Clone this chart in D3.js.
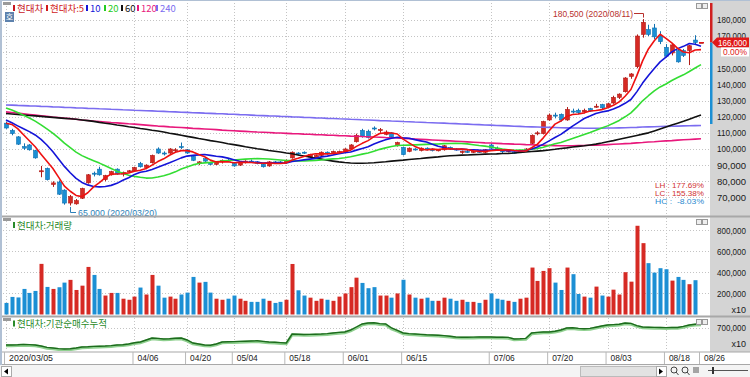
<!DOCTYPE html>
<html><head><meta charset="utf-8">
<script src="https://cdn.jsdelivr.net/npm/d3@7"></script>
<style>
html,body{margin:0;padding:0;background:#fff;}
svg{display:block;}
text{font-family:"Liberation Sans",Arial,sans-serif;}
.kr{font-family:"Noto Sans CJK KR","Noto Sans",sans-serif;}
</style></head><body>
<svg id="c" width="750" height="377"></svg>
<script>
const YEAR = "2020";
const dates = [
"03/05","03/06","03/09","03/10","03/11","03/12","03/13","03/16","03/17","03/18","03/19","03/20","03/23","03/24","03/25","03/26","03/27","03/30","03/31",
"04/01","04/02","04/03","04/06","04/07","04/08","04/09","04/10","04/13","04/14","04/16","04/17","04/20","04/21","04/22","04/23","04/24","04/27","04/28","04/29",
"05/04","05/06","05/07","05/08","05/11","05/12","05/13","05/14","05/15","05/18","05/19","05/20","05/21","05/22","05/25","05/26","05/27","05/28","05/29",
"06/01","06/02","06/03","06/04","06/05","06/08","06/09","06/10","06/11","06/12","06/15","06/16","06/17","06/18","06/19","06/22","06/23","06/24","06/25","06/26","06/29","06/30",
"07/01","07/02","07/03","07/06","07/07","07/08","07/09","07/10","07/13","07/14","07/15","07/16","07/17","07/20","07/21","07/22","07/23","07/24","07/27","07/28","07/29","07/30","07/31",
"08/03","08/04","08/05","08/06","08/07","08/10","08/11","08/12","08/13","08/14","08/18","08/19","08/20","08/21","08/24","08/25","08/26"];

const open = [
116000,111500,107500,101500,102500,99000,86000,88000,78000,79500,
74500,66500,66000,69500,79000,85000,87500,81000,84000,87500,
84500,86000,86500,91000,88500,91500,100000,97500,97500,99000,
101500,99500,95500,91000,94000,91500,90500,92000,93000,91000,
90000,92000,92500,92000,90500,89500,92000,92000,91500,94500,
97500,98000,95000,94500,96000,98000,97000,98000,98000,100000,
104500,111500,111000,113000,111500,109000,110000,102000,101000,98500,
100000,99000,100500,100000,99000,99500,101000,100000,98000,98500,
98000,98500,98000,102500,100500,99000,98500,98000,98000,99000,
103500,110000,109500,118000,121000,121500,118000,123500,124000,123000,
125000,126500,127500,126000,128500,132000,135500,145000,151000,171000,
174000,175000,170000,163000,159500,161000,161000,161000,167500,166000];
const high = [
117000,112500,108000,103500,103000,99500,89500,88500,80000,80500,
75000,71500,69000,76000,84500,86000,89000,84000,86500,88000,
86000,87000,89000,92000,90500,96500,101000,98500,100500,100500,
104000,100000,96000,92500,94500,92000,92500,93500,94000,91500,
92000,93000,93500,92500,91000,92500,92500,92500,93500,98500,
98000,98500,97000,96500,98500,98500,99000,99000,100500,103000,
109500,112500,112000,114000,113000,111500,110500,104500,101500,101000,
100500,101000,101000,100500,100000,102500,101500,100500,99000,99500,
99000,99500,100000,103500,101500,99500,99500,98500,99500,100500,
109000,111000,117500,122000,122500,122000,126000,125000,125000,125000,
125500,128000,128000,128500,133000,134500,144500,147000,171000,180500,
177000,177500,173000,165000,165000,162500,162000,164500,170500,166000];
const low = [
112500,108500,102500,99500,99000,94000,82500,80500,76500,71500,
65500,65000,65500,69000,78500,83000,83500,80000,83500,84000,
83000,85000,86000,88500,87500,91000,97000,96000,97000,98000,
100000,97000,92500,90000,92000,90000,90000,91000,92000,89000,
89500,91000,91500,90500,88500,89000,91000,91000,91000,94000,
96000,97000,94500,94000,95500,96500,96500,97000,97500,99500,
104000,107000,106500,111500,110000,108500,107000,101500,96000,98000,
99000,98500,99000,98500,98500,99000,99500,99000,97000,97500,
97500,97500,97500,100000,99000,97500,98000,97000,97500,98500,
103000,108500,109000,117500,119000,117000,117500,122000,121500,122000,
123000,125500,124500,125500,128000,131000,135000,143500,150000,169000,
170000,168000,165000,157000,158000,153500,157000,152000,165000,166000];
const close = [
113000,109500,103000,100500,99500,94500,86500,81000,79000,72000,
66500,70500,68000,75500,84000,84500,84000,83500,86000,84500,
85500,86500,88500,89000,90000,96000,97500,97000,100000,99500,
101000,97500,93000,92000,92500,90500,92000,93000,92500,89500,
91500,92500,92000,91000,89000,92000,91500,91500,93000,98000,
97000,97500,96500,96000,98000,97000,98500,98500,100000,102500,
108500,108000,107000,112500,112000,110500,107500,104000,96500,100500,
99500,100500,100000,99000,99500,102000,100000,99500,98500,98000,
98500,98000,99500,100500,100000,98500,99000,97500,99000,100000,
108500,110000,117000,121000,120500,118000,124500,123000,122500,124000,
123500,126500,125500,128000,132000,134000,144000,146500,170000,178500,
171000,169500,166500,157500,164500,154000,158000,164000,166000,166000];
// closes of the 19 sessions before 2020/03/05 (for the 5/10/20 averages)
const preClose = [135000,134000,133500,134000,133000,132500,132000,131500,131000,131500,127000,122000,119000,117000,115000,113500,116000,119500,118000];

// long moving averages
const ma60 = [
122000,121700,121400,121100,120800,120500,120200,119900,119600,119300,
119000,118700,118400,118000,117600,117100,116500,116000,115500,114900,
114400,113800,113300,112700,112200,111600,111100,110500,109800,109200,
108500,107800,107200,106500,105900,105200,104600,104000,103300,102700,
102100,101400,100800,100200,99700,99100,98600,98100,97500,97000,
96300,95700,95000,94300,93700,93000,92500,92000,91600,91300,
91200,91200,91300,91500,91800,92100,92500,92800,93100,93500,
93800,94100,94500,94800,95100,95500,95800,96000,96200,96300,
96500,96600,96800,96900,97000,97200,97300,97500,97800,98100,
98400,98700,99000,99400,99800,100300,100700,101200,101600,102000,
102500,103000,103700,104500,105200,106000,106800,107600,108400,109200,
110000,111200,112400,113600,114800,116000,117200,118500,119800,121000];
const ma120 = [
123000,122600,122200,121800,121400,121000,120600,120200,119800,119500,
119100,118800,118400,118000,117700,117300,117000,116700,116400,116200,
115900,115600,115400,115100,114800,114500,114200,114000,113700,113500,
113300,113100,112800,112600,112400,112200,112000,111700,111500,111300,
111100,110900,110700,110500,110400,110200,110000,109900,109700,109500,
109400,109200,109100,108900,108800,108600,108500,108300,108200,108000,
107900,107700,107600,107400,107300,107100,107000,106800,106600,106400,
106200,106000,105800,105600,105400,105200,105000,104800,104600,104400,
104200,104000,103800,103700,103500,103300,103200,103000,102900,102700,
102600,102400,102300,102200,102100,102000,102000,102000,102100,102200,
102300,102400,102500,102700,102900,103100,103300,103500,103800,104000,
104300,104500,104800,105000,105200,105500,105700,105900,106100,106300];
const ma240 = [
127300,127200,127000,126900,126700,126600,126400,126300,126100,126000,
125800,125700,125500,125400,125200,125100,124900,124800,124600,124500,
124300,124200,124000,123900,123700,123600,123400,123300,123100,123000,
122800,122700,122500,122400,122200,122100,121900,121800,121600,121500,
121300,121200,121000,120800,120700,120500,120400,120200,120100,119900,
119800,119600,119500,119300,119200,119000,118900,118700,118600,118400,
118300,118100,118000,117800,117600,117500,117300,117200,117000,116900,
116700,116600,116400,116300,116100,116000,115800,115700,115500,115400,
115200,115100,114900,114800,114600,114500,114300,114100,114000,113800,
113700,113600,113500,113400,113300,113200,113100,113000,113000,112900,
112900,112900,112900,113000,113000,113100,113200,113300,113400,113600,
113700,113800,113900,114000,114100,114200,114300,114400,114500,114600];

// volume (chart units, x10 shares)
const volume = [
110000,167000,162000,243000,205000,224000,481000,262000,243000,259000,
303000,329000,233000,274000,452000,376000,243000,180000,205000,205000,
150000,140000,170000,256000,190000,376000,274000,160000,170000,150000,
190000,208000,357000,303000,310000,208000,150000,140000,150000,180000,
150000,130000,120000,120000,150000,130000,110000,120000,140000,480000,
230000,180000,160000,130000,150000,140000,130000,170000,200000,260000,
350000,300000,250000,260000,180000,180000,160000,200000,330000,190000,
160000,150000,160000,130000,130000,160000,150000,130000,140000,120000,
120000,110000,140000,200000,150000,140000,130000,120000,150000,160000,
446000,319000,414000,440000,303000,233000,446000,383000,195000,170000,
160000,265000,180000,170000,236000,190000,402000,312000,843000,678000,
488000,398000,440000,430000,322000,357000,329000,288000,326000,0];

// institutional net buying, cumulative (chart units, x10)
const instCum = [
275000,275000,280000,290000,285000,275000,250000,215000,200000,185000,
175000,180000,200000,225000,230000,240000,245000,250000,260000,275000,
280000,300000,330000,350000,400000,450000,440000,425000,430000,445000,
450000,400000,325000,300000,275000,270000,300000,350000,355000,360000,
365000,370000,375000,380000,365000,350000,345000,335000,325000,550000,
545000,537000,540000,545000,550000,560000,575000,590000,600000,650000,
725000,800000,825000,830000,810000,800000,700000,640000,575000,560000,
550000,540000,530000,525000,520000,510000,495000,475000,470000,470000,
472000,475000,475000,475000,470000,470000,465000,425000,430000,440000,
575000,590000,600000,600000,620000,650000,700000,705000,690000,680000,
690000,720000,750000,775000,785000,795000,825000,815000,760000,725000,
720000,715000,712000,710000,712000,712000,740000,775000,795000,800000];

const priceTicks = [70000,80000,90000,100000,110000,120000,130000,140000,150000,170000,180000];
const volTicks = [200000,400000,600000,800000];
const instTicks = [700000];
const dateLabels = ["2020/03/05","04/06","04/20","05/04","05/18","06/01","06/15","07/06","07/20","08/03","08/18","08/26"];
const maColors = ["#ee1111","#1414d8","#33dd33","#111111","#e8187c","#7b6cf0"];
const lastPrice = 166000, lastChange = "0.00%";
const hiNote = "180,500 (2020/08/11)", loNote = "65,000 (2020/03/20)";
const statLines = [["LH : 177.69%","#d03030"],["LC : 155.38%","#d03030"],["HC :  -8.03%","#2a8ad0"]];

// ---------- scales ----------
const N = dates.length;
const x = d3.scaleLinear().domain([0, N-1]).range([6, 701]);
const yP = d3.scaleLinear().domain([70000,180000]).range([197.4,19.9]);
const yV = d3.scaleLinear().domain([0,800000]).range([314.5,230.3]);
const yI = d3.scaleLinear().domain([0,700000]).range([356,328]);
const UP="#d62a24", UPD="#b01c18", DN="#1c8fd4", DND="#1070b0";

function sma(n){
  const all = preClose.concat(close), off = preClose.length;
  return close.map((_,i)=>{ let s=0; for(let k=0;k<n;k++) s+=all[i+off-k]; return s/n; });
}
const maSeries = [sma(5), sma(10), sma(20), ma60, ma120, ma240];

const svg = d3.select("#c");
svg.append("rect").attr("width",750).attr("height",377).attr("fill","#fff");
svg.append("rect").attr("x",710).attr("y",0).attr("width",40).attr("height",352).attr("fill","#d4d4d4");

const defs = svg.append("defs");
defs.append("clipPath").attr("id","cpM").append("rect").attr("x",3).attr("y",2).attr("width",706).attr("height",213);
defs.append("clipPath").attr("id","cpV").append("rect").attr("x",3).attr("y",218).attr("width",706).attr("height",97);
defs.append("clipPath").attr("id","cpI").append("rect").attr("x",3).attr("y",318).attr("width",706).attr("height",33);

const grid = svg.append("g").attr("stroke","#c4c4c4").attr("stroke-dasharray","1,2").attr("stroke-width",1);
const labelIdx = dateLabels.map(l => dates.indexOf(l.length>5 ? l.slice(5) : l));
labelIdx.slice(0,-1).forEach(i=>{
  const xx = Math.round(x(i))+0.5;
  [[3,215],[218,315],[318,351]].forEach(([a,b])=>grid.append("line").attr("x1",xx).attr("x2",xx).attr("y1",a).attr("y2",b));
});
priceTicks.concat([160000]).forEach(v=>{ const yy=Math.round(yP(v))+0.5; grid.append("line").attr("x1",3).attr("x2",709).attr("y1",yy).attr("y2",yy);});
volTicks.forEach(v=>{ const yy=Math.round(yV(v))+0.5; grid.append("line").attr("x1",3).attr("x2",709).attr("y1",yy).attr("y2",yy);});
instTicks.forEach(v=>{ const yy=Math.round(yI(v))+0.5; grid.append("line").attr("x1",3).attr("x2",709).attr("y1",yy).attr("y2",yy);});

// ---------- candles ----------
const gM = svg.append("g").attr("clip-path","url(#cpM)");
const idx = d3.range(N);
const cg = gM.selectAll("g.c").data(idx).join("g");
cg.append("line")
  .attr("x1",i=>Math.round(x(i))+0.5).attr("x2",i=>Math.round(x(i))+0.5)
  .attr("y1",i=>yP(high[i])).attr("y2",i=>yP(low[i]))
  .attr("stroke",i=>close[i]>=open[i]?UPD:DND).attr("stroke-width",1);
cg.append("rect")
  .attr("x",i=>Math.round(x(i))-1.5).attr("width",4)
  .attr("y",i=>Math.min(yP(open[i]),yP(close[i])))
  .attr("height",i=>Math.max(1,Math.abs(yP(open[i])-yP(close[i]))))
  .attr("fill",i=>close[i]>=open[i]?UP:DN)
  .attr("stroke",i=>close[i]>=open[i]?UPD:DND).attr("stroke-width",0.6);

// ---------- moving averages ----------
const line = d3.line().x((d,i)=>x(i)).y(d=>yP(d));
[5,4,3,2,1,0].forEach(k=>{
  gM.append("path").attr("d",line(maSeries[k])).attr("fill","none")
    .attr("stroke",maColors[k]).attr("stroke-width",1.6).attr("stroke-linejoin","round");
});

// ---------- annotations ----------
const iHi = high.indexOf(d3.max(high)), iLo = low.indexOf(d3.min(low));
svg.append("text").attr("x",633).attr("y",17).attr("text-anchor","end").attr("font-size",9.5)
  .attr("fill","#b8302c").attr("textLength",80).attr("lengthAdjust","spacingAndGlyphs").text(hiNote);
svg.append("path").attr("d",`M634,13.5H${Math.round(x(iHi))+0.5}V${yP(high[iHi])-1.5}`).attr("fill","none").attr("stroke","#b8302c");
svg.append("text").attr("x",78).attr("y",216).attr("font-size",9.5)
  .attr("fill","#2c7fb8").attr("textLength",79).attr("lengthAdjust","spacingAndGlyphs").text(loNote);
svg.append("path").attr("d",`M${Math.round(x(iLo))+0.5},${yP(low[iLo])+1.5}V212.5H76`).attr("fill","none").attr("stroke","#2c7fb8");
statLines.forEach((s,k)=>{
  svg.append("text").attr("x",704).attr("y",188+k*8).attr("text-anchor","end").attr("font-size",8)
   .attr("fill",s[1]).attr("xml:space","preserve").attr("textLength",49).attr("lengthAdjust","spacingAndGlyphs").text(s[0]);
});

// ---------- volume ----------
const gV = svg.append("g").attr("clip-path","url(#cpV)");
gV.selectAll("rect").data(idx.filter(i=>volume[i]>0)).join("rect")
  .attr("x",i=>Math.round(x(i))-1.5).attr("width",4)
  .attr("y",i=>yV(volume[i])).attr("height",i=>yV(0)-yV(volume[i]))
  .attr("fill",i=>close[i]>=open[i]?UP:DN);

// ---------- institutional cumulative ----------
const gI = svg.append("g").attr("clip-path","url(#cpI)");
const iline = d3.line().x((d,i)=>x(i)).y(d=>yI(d));
gI.append("path").attr("d",iline(instCum)).attr("fill","none").attr("stroke","#8fd08f").attr("stroke-width",3).attr("transform","translate(0,0.8)");
gI.append("path").attr("d",iline(instCum)).attr("fill","none").attr("stroke","#1d6b1d").attr("stroke-width",1.4);

// ---------- frames ----------
svg.append("rect").attr("x",0).attr("y",215.5).attr("width",750).attr("height",2).attr("fill","#a8a8a8");
svg.append("rect").attr("x",0).attr("y",315.5).attr("width",750).attr("height",2).attr("fill","#a8a8a8");
svg.append("rect").attr("x",0).attr("y",351.5).attr("width",750).attr("height",1).attr("fill","#a8a8a8");
svg.append("rect").attr("x",0).attr("y",364).attr("width",750).attr("height",1).attr("fill","#a8a8a8");
svg.append("rect").attr("x",0).attr("y",0).attr("width",2).attr("height",365).attr("fill","#b0c0d4");
svg.append("rect").attr("x",0).attr("y",0).attr("width",750).attr("height",1).attr("fill","#b0c0d4");
svg.append("rect").attr("x",710).attr("y",3).attr("width",2.5).attr("height",yP(lastPrice)-3).attr("fill","#d02020");
svg.append("rect").attr("x",710).attr("y",yP(lastPrice)).attr("width",2.5).attr("height",124-yP(lastPrice)).attr("fill","#1c8fd4");

// ---------- axes ----------
function styleAxis(g, w){
  g.select(".domain").remove();
  g.selectAll("line").remove();
  g.selectAll("text").attr("x",0).attr("dx",0).attr("text-anchor","end").attr("font-size",9)
   .attr("fill","#1a1a1a").attr("textLength",w).attr("lengthAdjust","spacingAndGlyphs");
}
const fmt = d3.format(",");
styleAxis(svg.append("g").attr("transform","translate(746,0)").call(d3.axisRight(yP).tickValues(priceTicks).tickFormat(fmt).tickSize(0)),29);
styleAxis(svg.append("g").attr("transform","translate(746,0)").call(d3.axisRight(yV).tickValues(volTicks).tickFormat(fmt).tickSize(0)),29);
styleAxis(svg.append("g").attr("transform","translate(746,0)").call(d3.axisRight(yI).tickValues(instTicks).tickFormat(fmt).tickSize(0)),29);
[310,344].forEach(yy=>svg.append("text").attr("x",746).attr("y",yy+3).attr("text-anchor","end").attr("font-size",9).attr("fill","#1a1a1a").text("x10"));

// current price tag
const yc = yP(lastPrice);
svg.append("path").attr("d",`M712,${yc}L717,${yc-5}H749V${yc+5}H717Z`).attr("fill","#e01818");
svg.append("text").attr("x",747).attr("y",yc+3.3).attr("text-anchor","end").attr("font-size",9).attr("fill","#fff")
  .attr("textLength",29).attr("lengthAdjust","spacingAndGlyphs").text(fmt(lastPrice));
svg.append("rect").attr("x",721).attr("y",yc+5).attr("width",28).attr("height",9).attr("fill","#fff");
svg.append("text").attr("x",747).attr("y",yc+12.5).attr("text-anchor","end").attr("font-size",9).attr("fill","#e01818")
  .attr("textLength",24).attr("lengthAdjust","spacingAndGlyphs").text(lastChange);
svg.append("line").attr("x1",699).attr("x2",704).attr("y1",Math.round(yc)+0.5).attr("y2",Math.round(yc)+0.5).attr("stroke","#e01818");

// date axis
const aX = svg.append("g").attr("transform","translate(0,352)")
  .call(d3.axisBottom(x).tickValues(labelIdx).tickFormat((d,k)=>dateLabels[k]).tickSize(12));
aX.select(".domain").remove();
aX.selectAll("line").attr("stroke","#b8b8b8").attr("transform","translate(-2,0)");
aX.selectAll("text").attr("y",9).attr("dy",0).attr("text-anchor","start").attr("dx",2.5).attr("font-size",9.5).attr("fill","#1a1a1a")
  .attr("textLength",(d,k)=>dateLabels[k].length>5?44:21).attr("lengthAdjust","spacingAndGlyphs");

// ---------- legends / headers ----------
const legend = [["현대차","#c8161e"],["현대차:5","#d11a1a"],["10","#1414d8"],["20","#22cc22"],["60","#111"],["120","#e8187c"],["240","#7b6cf0"]];
const legX = [13,46,86,104,121,137,156];
legend.forEach((l,k)=>{
  svg.append("rect").attr("x",legX[k]).attr("y",5).attr("width",2).attr("height",6).attr("fill",l[1]);
  svg.append("text").attr("class","kr").attr("x",legX[k]+4).attr("y",12).attr("font-size",9.5).attr("fill",l[1]).text(l[0]);
});
[[3,2],[3,218],[3,318]].forEach(([a,b])=>svg.append("rect").attr("x",a).attr("y",b).attr("width",8).attr("height",3).attr("fill","#9a9a9a"));
svg.append("rect").attr("x",5).attr("y",12).attr("width",9).attr("height",10).attr("fill","#5d82ad");
svg.append("text").attr("class","kr").attr("x",9.5).attr("y",20).attr("text-anchor","middle").attr("font-size",8).attr("fill","#fff").text("호");
[["현대차:거래량",228.5],["현대차:기관순매수누적",327]].forEach(([t,yy])=>{
  svg.append("rect").attr("x",13).attr("y",yy-6.5).attr("width",2).attr("height",6).attr("fill","#2a8a2a");
  svg.append("text").attr("class","kr").attr("x",17).attr("y",yy).attr("font-size",9.5).attr("fill","#2a8a2a").text(t);
});
[3,219,319].forEach(yy=>{
  [696,702].forEach(xx=>svg.append("rect").attr("x",xx+0.5).attr("y",yy+0.5).attr("width",5).attr("height",5).attr("fill","#eee").attr("stroke","#999"));
});

// ---------- scrollbar ----------
svg.append("rect").attr("x",0).attr("y",365).attr("width",750).attr("height",12).attr("fill","#f4f4f4");
svg.append("rect").attr("x",1.5).attr("y",366.5).attr("width",10).attr("height",10).attr("fill","#fff").attr("stroke","#aaa");
svg.append("path").attr("d","M4,371.5L8,368.5V374.5Z").attr("fill","#000");
svg.append("rect").attr("x",580.5).attr("y",366.5).attr("width",76).attr("height",10).attr("fill","#e2e2e2").attr("stroke","#bbb");
svg.append("rect").attr("x",656.5).attr("y",366.5).attr("width",10).attr("height",10).attr("fill","#fff").attr("stroke","#aaa");
svg.append("path").attr("d","M659,368.5L663,371.5L659,374.5Z").attr("fill","#000");
[674,685].forEach(xx=>{
  svg.append("circle").attr("cx",xx).attr("cy",370).attr("r",3).attr("fill","none").attr("stroke","#444");
  svg.append("line").attr("x1",xx+2).attr("y1",372).attr("x2",xx+4.5).attr("y2",375).attr("stroke","#444");
});
svg.append("path").attr("d","M694,367V373M696,367V373M698,367V373").attr("stroke","#555");
svg.append("line").attr("x1",708).attr("x2",748).attr("y1",370.5).attr("y2",370.5).attr("stroke","#555");
svg.append("rect").attr("x",712).attr("y",367).attr("width",2).attr("height",7).attr("fill","#333");
</script>
</body></html>
